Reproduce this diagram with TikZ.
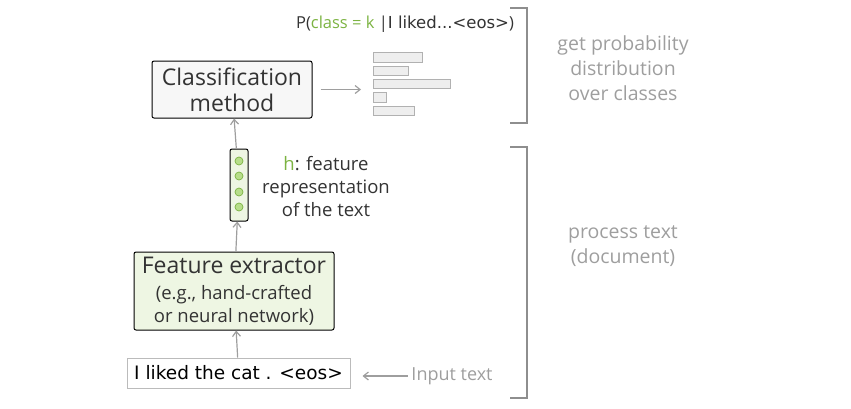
\documentclass[tikz,border=0pt]{standalone}
\usepackage{fontspec}
\setmainfont{Open Sans}
\newfontfamily\comicfont{DejaVu Sans}
\usetikzlibrary{positioning}
\usetikzlibrary{arrows.meta}
\definecolor{txt}{HTML}{333333}
\definecolor{lbl}{HTML}{9E9E9E}
\definecolor{grn}{HTML}{7CB342}
\definecolor{featfill}{HTML}{EEF6E3}
\definecolor{dotfill}{HTML}{B7DE8A}
\definecolor{bargray}{HTML}{EEEEEE}

\begin{document}
\begin{tikzpicture}
    [
    x=1pt, y=-1pt,
    box/.style={draw=black,line width=1pt,rounded corners=2pt,text=txt,align=center,inner sep=0pt},
    dot/.style={circle,draw=grn,fill=dotfill,line width=0.7pt,inner sep=0pt,minimum size=8pt},
    arr/.style={draw=lbl,line width=1.2pt,-{Straight Barb[length=5pt,width=8pt]}},
    bar/.style={draw=lbl!80,fill=bargray,line width=1pt},
    brk/.style={draw=lbl!90!black,line width=1.3pt},
    note/.style={text=lbl,align=center,font=\fontsize{19.5}{25}\selectfont}
    ]
    \useasboundingbox (0,0) rectangle (851,408);

    \node (cls) at (232,89.5) [box, fill=black!3, minimum width=160pt, minimum height=57pt,
      font=\fontsize{23}{26}\selectfont] {Classification\\method};
    \node (vec) at (239,185) [box, fill=featfill, minimum width=18pt, minimum height=72pt] {};
    \foreach \i/\y in {1/161,2/176,3/192,4/207}
      \node (d\i) at (239,\y) [dot] {};
    \node (feat) at (234,291) [box, fill=featfill, minimum width=200pt, minimum height=78pt,
      font=\fontsize{18.5}{23}\selectfont]
      {{\fontsize{23}{26}\selectfont Feature extractor}\\[3pt]
       (e.g., hand-crafted\\
       or neural network)};
    \node (input) at (238.5,373) [draw=lbl!70,line width=1pt,inner sep=0pt,
      minimum width=223pt, minimum height=30pt, font=\comicfont\fontsize{18.5}{20}\selectfont]
      {I liked the cat . <eos>};

    \draw [arr] (input) -- (feat);
    \draw [arr] (feat) -- (vec);
    \draw [arr] (vec) -- (cls);

    \node (hlbl) at (326,187) [text=txt, align=center, font=\fontsize{18.5}{23}\selectfont]
      {\textcolor{grn}{h}: feature\\representation\\of the text};
    \node (inlbl) at (452,376) [text=lbl, font=\fontsize{18}{20}\selectfont] {Input text};
    \draw [arr, shorten >=12pt] (inlbl) -- (inlbl -| input.east);

    % output distribution
    \node (prob) at (405,24) [text=txt, font=\fontsize{16.5}{20}\selectfont]
      {P(\textcolor{grn}{class = k} |{\comicfont I liked...<eos>})};
    \coordinate (bars) at (361,89.5);
    \draw [arr, shorten <=8pt] (cls) -- (bars);
    \foreach \y/\w in {57/49,70.5/35,83.5/77,97/13,110.5/41}
      \draw [bar] (373,{\y-4.5}) rectangle ++(\w,9.5);

    % brackets
    \draw [brk] (510,8) -- (527,8) -- (527,123) -- (510,123);
    \draw [brk] (510,147) -- (527,147) -- (527,398) -- (510,398);
    \node (get) at (623,68) [note] {get probability\\distribution\\over classes};
    \node (proc) at (623,246) [note] {process text\\(document)};
  \end{tikzpicture}
\end{document}
